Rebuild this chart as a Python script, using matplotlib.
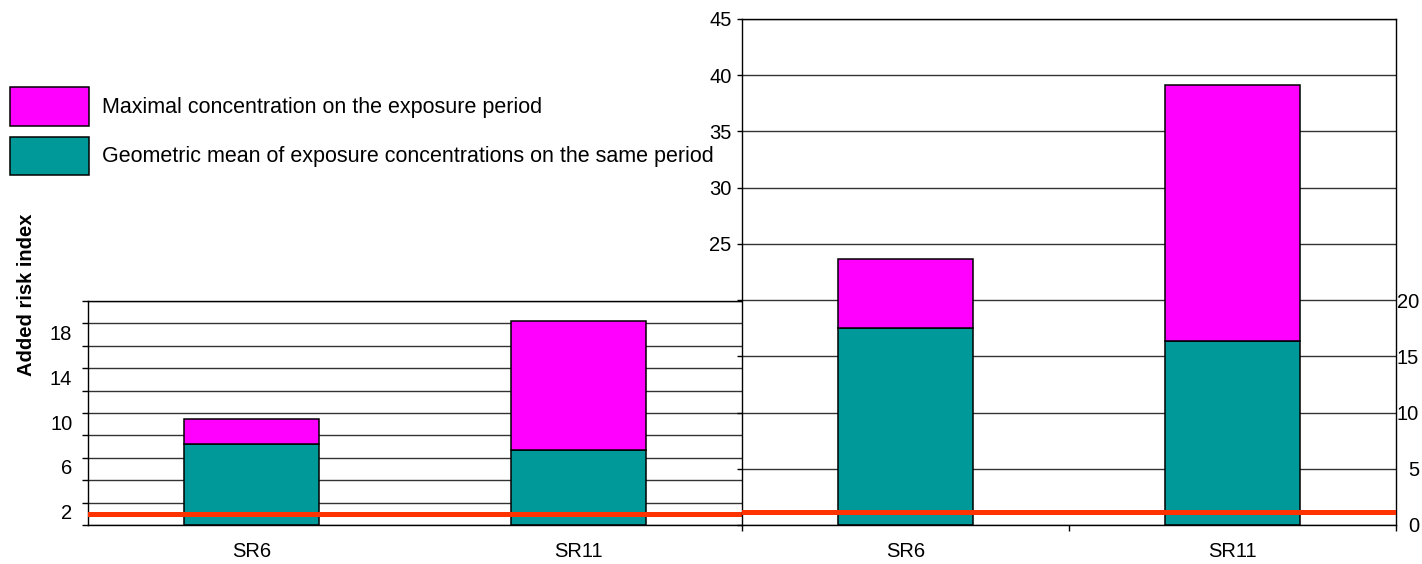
import matplotlib
matplotlib.use("Agg")
import matplotlib.pyplot as plt
from matplotlib.patches import Rectangle
from matplotlib.transforms import ScaledTranslation
import numpy as np

plt.rcParams['font.family'] = ['Liberation Sans', 'DejaVu Sans']

# ---- data ----
categories = ['SR6', 'SR11']
left_geo_mean = [7.2, 6.7]
left_maximal = [9.5, 18.2]
right_geo_mean = [17.5, 16.4]
right_maximal = [23.7, 39.1]
threshold_left = 1.0
threshold_right = 1.2
legend_labels = ['Maximal concentration on the exposure period',
                 'Geometric mean of exposure concentrations on the same period']
left_ticks = list(range(0, 21, 2))
left_tick_labels = ['', '2', '', '6', '', '10', '', '14', '', '18', '']
right_ticks = list(range(0, 46, 5))
right_left_labels = ['', '', '', '', '', '25', '30', '35', '40', '45']
right_right_ticks = [0, 5, 10, 15, 20]
right_right_labels = ['0', '5', '10', '15', '20']
ylabel = 'Added risk index'

# ---- style ----
MAG = '#FF00FF'
TEAL = '#009999'
RED = '#FF3300'
GRID = '#333333'
FS = 14.5
FS_LEG = 15.5
W, H = 1422, 564

def fx(x):
    return x / W

def fy(y):
    return 1 - y / H

fig = plt.figure(figsize=(W / 100, H / 100), dpi=100)
ax1 = fig.add_axes([fx(88), fy(525), (742 - 88) / W, (525 - 301) / H])
ax2 = fig.add_axes([fx(742), fy(525), (1396 - 742) / W, (525 - 19) / H])

x = np.arange(len(categories))
bw = 0.41

def draw_panel(ax, geo, mx, thr, ymax):
    ax.set_axisbelow(True)
    ax.bar(x, geo, width=bw, color=TEAL, edgecolor='black', linewidth=1.1, zorder=2)
    ax.bar(x, np.array(mx) - np.array(geo), bottom=geo, width=bw, color=MAG,
           edgecolor='black', linewidth=1.1, zorder=2)
    ax.axhline(thr, color=RED, linewidth=3.6, zorder=5)
    ax.set_xlim(-0.5, 1.5)
    ax.set_ylim(0, ymax)
    ax.yaxis.grid(True, color=GRID, linewidth=1.0)
    ax.xaxis.grid(False)
    for s in ax.spines.values():
        s.set_color('black')
        s.set_linewidth(1.0)
    ax.set_xticks(x)
    ax.set_xticklabels(categories, fontsize=FS)
    ax.tick_params(axis='x', length=0, pad=12.5)

draw_panel(ax1, left_geo_mean, left_maximal, threshold_left, 20)
draw_panel(ax2, right_geo_mean, right_maximal, threshold_right, 45)

# left panel y axis
ax1.spines['right'].set_visible(False)
ax1.set_yticks(left_ticks)
ax1.set_yticklabels(left_tick_labels, fontsize=FS)
ax1.tick_params(axis='y', direction='out', length=4.3, width=1.0, pad=7)
off = ScaledTranslation(0, -9 / 100, fig.dpi_scale_trans)
for lab in ax1.get_yticklabels():
    lab.set_transform(lab.get_transform() + off)

# right panel y axis (left side)
ax2.set_yticks(right_ticks)
ax2.set_yticklabels(right_left_labels, fontsize=FS)
ax2.tick_params(axis='y', direction='out', length=3.6, width=1.0, pad=4)
ax2.set_xticks([-0.5, 0.5, 1.5], minor=True)
ax2.tick_params(axis='x', which='minor', direction='out', length=4.3, width=1.0)

# right panel y axis (right side labels)
ax2r = ax2.twinx()
ax2r.set_ylim(0, 45)
ax2r.set_yticks(right_right_ticks)
ax2r.set_yticklabels(right_right_labels, fontsize=FS)
ax2r.tick_params(axis='y', length=0, pad=16.5)
for lab in ax2r.get_yticklabels():
    lab.set_horizontalalignment('right')
for s in ax2r.spines.values():
    s.set_visible(False)

# y label
fig.text(fx(27), fy(295), ylabel, rotation=90, fontsize=FS, fontweight='bold',
         ha='center', va='center')

# legend
legend_colors = [MAG, TEAL]
legend_boxes = [(87.3, 125.7), (136.7, 175.0)]
for (y0, y1), col, lab in zip(legend_boxes, legend_colors, legend_labels):
    fig.add_artist(Rectangle((fx(10), fy(y1)), (89 - 10) / W, (y1 - y0) / H,
                             transform=fig.transFigure, facecolor=col,
                             edgecolor='black', linewidth=1.1))
    fig.text(fx(101.5), fy((y0 + y1) / 2 + 1), lab, fontsize=FS_LEG, ha='left', va='center')

fig.savefig('out.png', dpi=100)
